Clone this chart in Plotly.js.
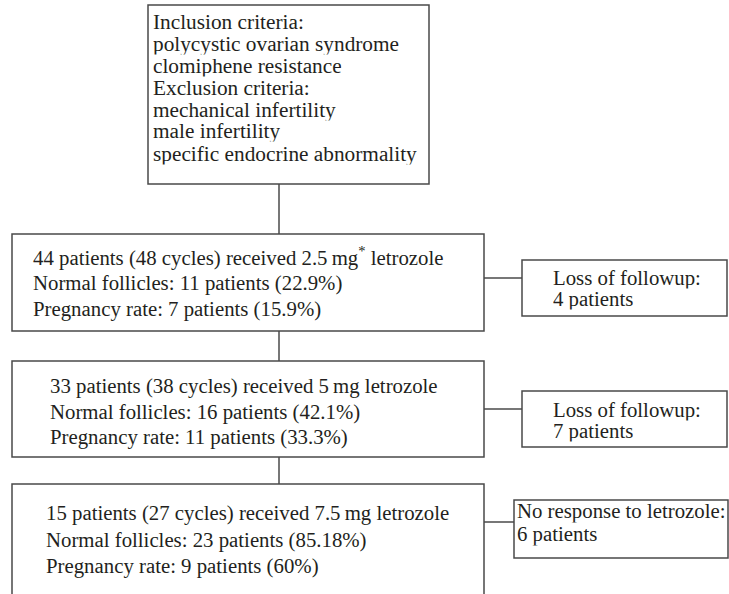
<!DOCTYPE html>
<html>
<head>
<meta charset="utf-8">
<script src="https://cdn.plot.ly/plotly-3.0.1.min.js"></script>
<style>html,body{margin:0;padding:0;background:#fff;}#chart{width:729px;height:594px;}</style>
</head>
<body>
<div id="chart"></div>
<script>
// ---- content (texts) ----
const criteriaLines = [
  "Inclusion criteria:",
  "polycystic ovarian syndrome",
  "clomiphene resistance",
  "Exclusion criteria:",
  "mechanical infertility",
  "male infertility",
  "specific endocrine abnormality"
];
const step1Lines = [
  "44 patients (48 cycles) received 2.5\u2009mg<sup>*</sup> letrozole",
  "Normal follicles: 11 patients (22.9%)",
  "Pregnancy rate: 7 patients (15.9%)"
];
const step2Lines = [
  "33 patients (38 cycles) received 5\u2009mg letrozole",
  "Normal follicles: 16 patients (42.1%)",
  "Pregnancy rate: 11 patients (33.3%)"
];
const step3Lines = [
  "15 patients (27 cycles) received 7.5\u2009mg letrozole",
  "Normal follicles: 23 patients (85.18%)",
  "Pregnancy rate: 9 patients (60%)"
];
const side1Lines = ["Loss of followup:", "4 patients"];
const side2Lines = ["Loss of followup:", "7 patients"];
const side3Lines = ["No response to letrozole:", "6 patients"];

// ---- layout geometry (pixels, y downward) ----
const boxes = [
  {x0:148, x1:429, y0:5,   y1:184, tx:152, ty:[21.5,43.5,65.5,87.5,109.5,131,153.5], lines:criteriaLines, size:21.3, h:21.6},
  {x0:12,  x1:484, y0:234, y1:331, tx:32,  ty:[256,283,309], lines:step1Lines, size:20.8, h:null},
  {x0:12,  x1:484, y0:361, y1:457, tx:49,  ty:[386,412,437], lines:step2Lines, size:20.8, h:null},
  {x0:12,  x1:484, y0:484, y1:null, tx:45, ty:[513,540,566], lines:step3Lines, size:20.8, h:null},
  {x0:522, x1:727, y0:260, y1:316, tx:552, ty:[278,299], lines:side1Lines, size:20.8, h:20.5},
  {x0:522, x1:727, y0:391, y1:447, tx:552, ty:[410,431], lines:side2Lines, size:20.8, h:20.5},
  {x0:514, x1:728, y0:500, y1:558, tx:516, ty:[511,534], lines:side3Lines, size:20.8, h:22.5}
];
const connectors = [
  [279,184,279,234],
  [279,331,279,361],
  [279,457,279,484],
  [484,278,522,278],
  [484,409,522,409],
  [484,522,514,522]
];

const lineStyle = {color:'#4a4a4a', width:1.5};
const shapes = [];
boxes.forEach(b => {
  if (b.y1 === null) {
    shapes.push({type:'path', xref:'x', yref:'y',
      path:`M ${b.x0} 600 L ${b.x0} ${b.y0} L ${b.x1} ${b.y0} L ${b.x1} 600`,
      line:lineStyle});
  } else {
    shapes.push({type:'rect', xref:'x', yref:'y', x0:b.x0, x1:b.x1, y0:b.y0, y1:b.y1, line:lineStyle, fillcolor:'rgba(0,0,0,0)'});
  }
});
connectors.forEach(c => shapes.push({type:'line', xref:'x', yref:'y', x0:c[0], y0:c[1], x1:c[2], y1:c[3], line:lineStyle}));

const annotations = [];
boxes.forEach(b => {
  b.lines.forEach((t,i) => {
    const a = {x:b.tx, y:b.ty[i], xref:'x', yref:'y', text:t, showarrow:false,
      xanchor:'left', yanchor:'middle', borderpad:0, valign:'middle',
      font:{family:'"Liberation Serif", "DejaVu Serif", serif', size:b.size, color:'#231f20'}};
    if (b.h) a.height = b.h;
    annotations.push(a);
  });
});

const layout = {
  width:729, height:594,
  margin:{l:0,r:0,t:0,b:0},
  paper_bgcolor:'#ffffff', plot_bgcolor:'#ffffff',
  showlegend:false,
  xaxis:{range:[0,729], visible:false, fixedrange:true},
  yaxis:{range:[594,0], visible:false, fixedrange:true},
  shapes:shapes,
  annotations:annotations
};
Plotly.newPlot('chart', [], layout, {staticPlot:true, displayModeBar:false});
</script>
</body>
</html>
